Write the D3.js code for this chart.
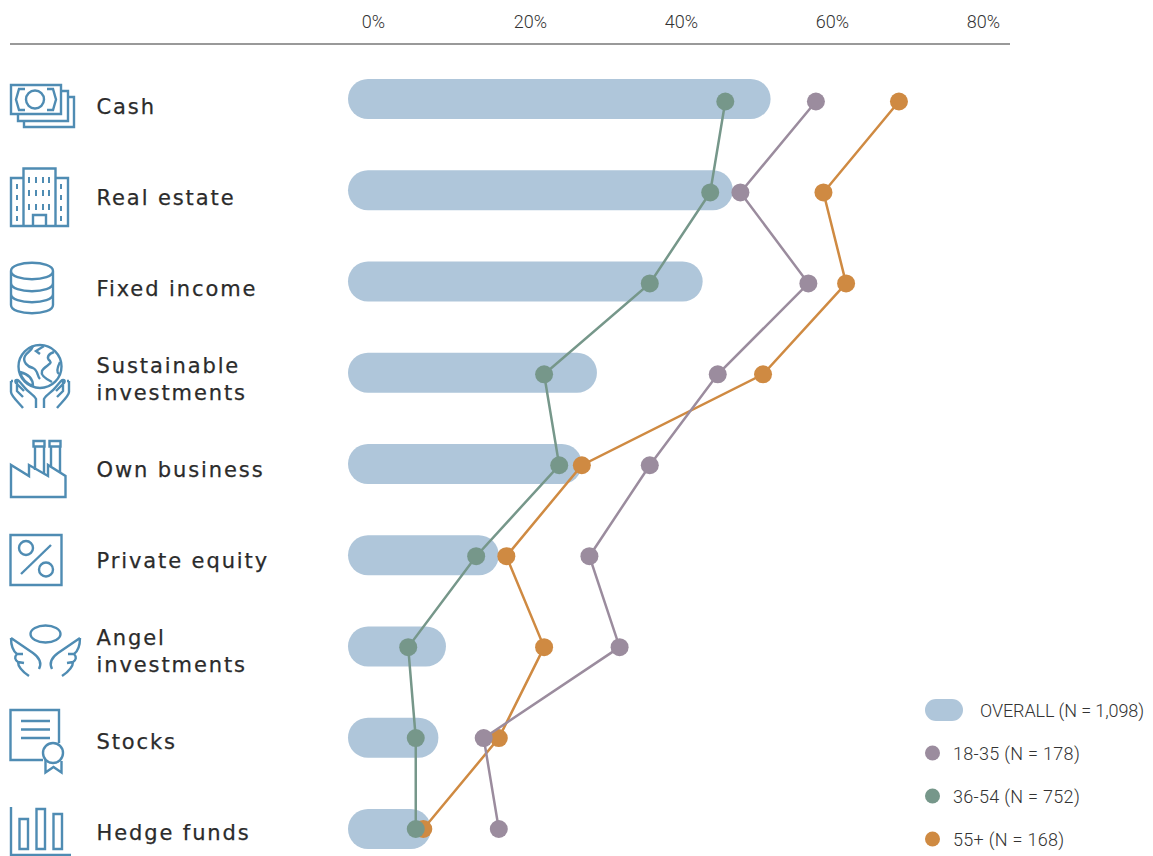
<!DOCTYPE html>
<html><head><meta charset="utf-8">
<script src="https://cdnjs.cloudflare.com/ajax/libs/d3/7.8.5/d3.min.js"></script>
<style>html,body{margin:0;padding:0;background:#fff}svg{display:block}</style>
</head><body><div id="c"></div>
<script>
const categories=["Cash","Real estate","Fixed income","Sustainable investments","Own business","Private equity","Angel investments","Stocks","Hedge funds"];
const overall=[52,47,43,29,27,16,9,8,7];
const age1835=[58,48,57,45,36,28,32,14,16];
const age3654=[46,44,36,22,24,13,4,5,5];
const age55=[69,59,62,51,27,17,22,16,6];
const tickValues=[0,20,40,60,80];
const legendLabels=["OVERALL (N = 1,098)","18-35 (N = 178)","36-54 (N = 752)","55+ (N = 168)"];

const W=1153,H=856;
const svg=d3.select("#c").append("svg").attr("width",W).attr("height",H);
const x=d3.scaleLinear().domain([0,80]).range([378,982]);
const yBar=d3.scalePoint().domain(categories).range([99,829]);
const yDot=d3.scalePoint().domain(categories).range([101.5,829]);
const yLab=d3.scalePoint().domain(categories).range([114,840]);
const C={bar:"#afc6da",p:"#9b8c9e",g:"#76978a",o:"#cf8a42",icon:"#4f8cb3",text:"#2b2b2b"};
const tickFont="'Roboto',sans-serif";
const labelFont="'DejaVu Sans',sans-serif";

// axis
const ax=svg.append("g").attr("transform","translate(0,44)").call(d3.axisTop(x).tickValues(tickValues).tickFormat(d=>d+"%").tickSize(0).tickPadding(16));
ax.select(".domain").remove();
ax.selectAll("text").attr("font-family",tickFont).attr("font-weight",300).attr("font-size",18).attr("fill","#333").attr("dx",1);
ax.selectAll(".tick").filter(d=>d===0).select("text").attr("dx",-5);
svg.append("line").attr("x1",10).attr("x2",1010).attr("y1",44).attr("y2",44).attr("stroke","#777").attr("stroke-width",1.5);

// bars
const barH=40,capOffset=30;
svg.append("g").selectAll("rect").data(categories).join("rect")
 .attr("x",x(0)-capOffset).attr("y",d=>yBar(d)-barH/2)
 .attr("width",(d,i)=>x(overall[i])-x(0)+capOffset).attr("height",barH)
 .attr("rx",20).attr("fill",C.bar);

// series
const series=[{v:age55,c:C.o},{v:age1835,c:C.p},{v:age3654,c:C.g}];
const line=d3.line().x(d=>x(d[0])).y(d=>yDot(d[1]));
series.forEach(s=>{
 const pts=s.v.map((v,i)=>[v,categories[i]]);
 svg.append("path").attr("d",line(pts)).attr("fill","none").attr("stroke",s.c).attr("stroke-width",2.5);
 svg.append("g").selectAll("circle").data(s.v).join("circle")
  .attr("cx",d=>x(d)).attr("cy",(d,i)=>yDot(categories[i])).attr("r",9).attr("fill",s.c);
});

// labels
const labelLines={"Sustainable investments":["Sustainable","investments"],"Angel investments":["Angel","investments"]};
const lab=svg.append("g").attr("font-family",labelFont).attr("font-size",21).attr("fill",C.text).attr("letter-spacing",1.9).attr("stroke",C.text).attr("stroke-width",0.25);
categories.forEach(c=>{
 const ls=labelLines[c]||[c];
 ls.forEach((t,j)=>{
  lab.append("text").attr("x",96.5).attr("y",yLab(c)+(ls.length===1?0:(j===0?-13.5:13.5))).text(t);
 });
});

// legend
const lg=svg.append("g").attr("font-family",tickFont).attr("font-weight",300).attr("font-size",18).attr("fill","#333");
lg.append("rect").attr("x",925).attr("y",699).attr("width",38).attr("height",22).attr("rx",11).attr("fill",C.bar);
lg.append("text").attr("x",980).attr("y",717).attr("letter-spacing",-0.1).text(legendLabels[0]);
[[C.p,753],[C.g,796],[C.o,839]].forEach((d,i)=>{
 lg.append("circle").attr("cx",932.5).attr("cy",d[1]).attr("r",7.5).attr("fill",d[0]);
 lg.append("text").attr("x",953).attr("y",d[1]+6.5).attr("letter-spacing",0.3).text(legendLabels[i+1]);
});

// icons
const ic=svg.append("g").attr("fill","none").attr("stroke",C.icon).attr("stroke-width",2.4).attr("stroke-linejoin","miter");
const P=d=>ic.append("path").attr("d",d);
// cash
P("M11 85H61V114H11Z M61 91H68V121H18V114 M68 97H74V127H24V121");
ic.append("circle").attr("cx",35).attr("cy",99.5).attr("r",9);
P("M25 89H19L16 99.5L19 110H25 M47 89H53L56 99.5L53 110H47");
// real estate
P("M23.5 168.5H55.5V226H23.5Z M23.5 178H11V226H68V178H55.5 M33 226V215H46V226");
let win="";
[29,36,43,49].forEach(a=>{[177,190,204].forEach(b=>{win+=`M${a} ${b}v6`;});});
[17,61].forEach(a=>{[184,195,206,216].forEach(b=>{win+=`M${a} ${b}v5`;});});
P(win).attr("stroke-width",2);
// fixed income
P("M11 271C11 260 53 260 53 271V305C53 316 11 316 11 305Z M11 271C11 282 53 282 53 271 M11 283C11 294 53 294 53 283 M11 294C11 305 53 305 53 294");
// globe
ic.append("circle").attr("cx",40).attr("cy",366.5).attr("r",21.5);
P("M33 346C31 352 27 352 25 356C22 362 28 367 33 368C38 370 37 376 40 379 M44 346L36 351L40 354 M54 352C48 354 46 358 50 361C53 364 44 366 42 371C40 376 48 380 52 382 M20 372C22 380 28 384 33 386C33 379 28 374 20 372Z M60 362C57 368 56 372 59 374");
P("M36 408V399C34 395 28 392 25 388L19 381C17 379 14 380 16 383L24 391 M11 381V392C11 396 20 404 23 408 M11 381H13 M44 408V399C46 395 52 392 55 388L61 381C63 379 66 380 64 383L56 391 M69 381V392C69 396 60 404 57 408 M69 381H67 M17 381V391L23 397 M63 381V391L57 397");
// factory
P("M11 465V497H65.5V476L48 465V476L29 465V476Z");
P("M35 470V446.5M44 474V446.5M51 466V446.5M60 472V446.5M33.5 441H44.5V446.5H33.5Z M49.5 441H60.5V446.5H49.5Z");
// percent
P("M10.5 535H61.5V585H10.5Z");
ic.append("circle").attr("cx",26).attr("cy",548).attr("r",7);
ic.append("circle").attr("cx",46).attr("cy",569.5).attr("r",7);
P("M21 574L51 545");
// angel
ic.append("ellipse").attr("cx",45.5).attr("cy",634).attr("rx",15).attr("ry",8.5);
P("M11 638C11 646 13 651 17 654C14 657 15 660 18 662C18 667 23 672 29 676 M11 638L33 653C40 658 42 663 39 669 M17 654H23 M18 662L24 663");
P("M80 638C80 646 78 651 74 654C77 657 76 660 73 662C73 667 68 672 62 676 M80 638L58 653C51 658 49 663 52 669 M74 654H68 M73 662L67 663");
// stocks
P("M43 760H10.5V710H59V743");
P("M21 721H50 M21 729.5H50 M21 738H50");
ic.append("circle").attr("cx",53).attr("cy",753).attr("r",10);
P("M45.5 760V772.5L53.5 767L61.5 772.5V761");
// hedge
P("M11 807V855H71");
P("M19.5 819H28V849H19.5Z M36.5 809H45V849H36.5Z M53.5 814H62V849H53.5Z");
</script></body></html>
